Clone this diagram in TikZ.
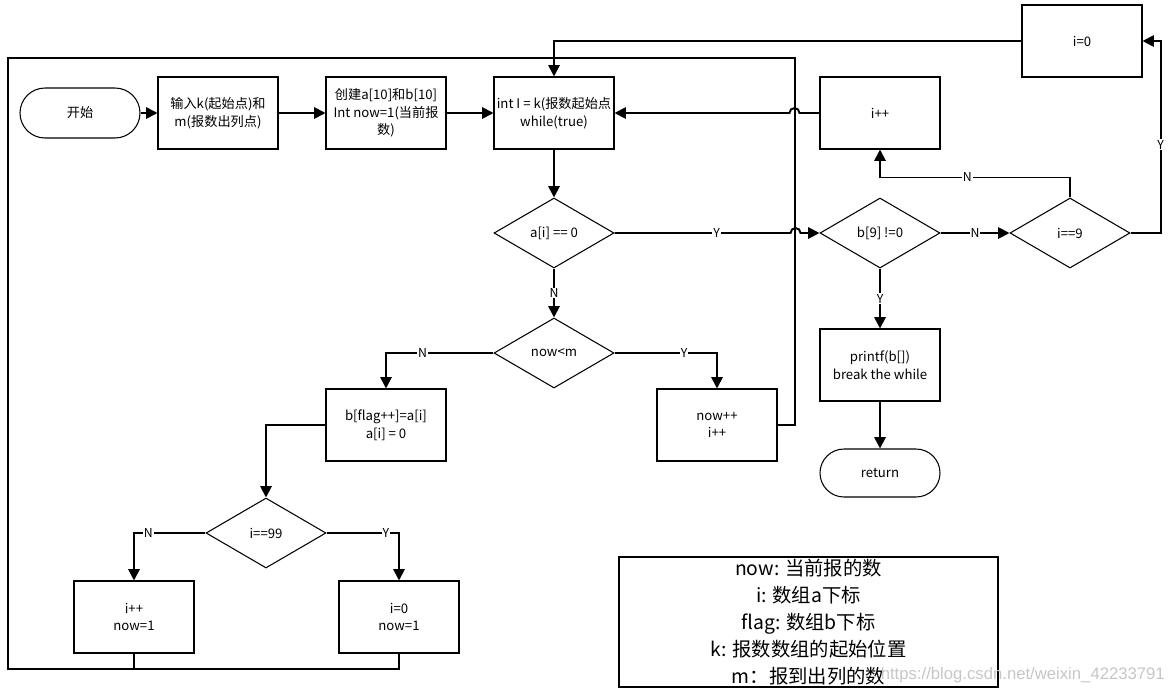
\documentclass[tikz,border=0pt]{standalone}
\usepackage{fontspec}
\setmainfont{Noto Sans CJK SC}
\newfontfamily\wmfont{Liberation Sans}
\usetikzlibrary{shapes.geometric, arrows.meta, positioning}

\tikzstyle{startstop} = [rectangle, rounded corners=0.5cm, minimum width=2.4cm, minimum height=1cm, text centered, draw=black, line width=0.6pt]
\tikzstyle{process} = [rectangle, minimum width=2.4cm, minimum height=1.44cm, text centered, align=center, inner sep=1pt, draw=black, line width=0.6pt]
\tikzstyle{decision} = [diamond, aspect=1.7, minimum width=2.4cm, minimum height=1.4cm, inner sep=0pt, text centered, draw=black, line width=0.6pt]
\tikzstyle{arrow} = [line width=1.1pt,-{Triangle[length=6.5pt,width=6.5pt]}]
\tikzstyle{line} = [line width=1.1pt]
\tikzstyle{lbl} = [fill=white, inner sep=0.5pt, font=\fontsize{7}{8}\selectfont]

\begin{document}
\begin{tikzpicture}[node distance=2.4cm, font=\fontsize{7.5}{10}\selectfont]
    \useasboundingbox (0,0) rectangle (23.48,-13.82);

    % Nodes
    \node (start) [startstop] at (1.6,-2.26) {开始};
    \node (input) [process, right of=start, xshift=0.36cm] {输入k(起始点)和\\m(报数出列点)};
    \node (create) [process, right of=input, xshift=0.96cm] {创建a[10]和b[10]\\Int now=1(当前报\\数)};
    \node (loop) [process, right of=create, xshift=0.96cm] {int I = k(报数起始点\\while(true)};

    % Inner loop
    \node (dA) [decision, below of=loop] {a[i] == 0};
    \node (dNow) [decision, below of=dA] {now<m};
    \node (bflag) [process, below of=dNow, xshift=-3.36cm, yshift=0.96cm] {b[flag++]=a[i]\\a[i] = 0};
    \node (nowpp) [process, below of=dNow, xshift=3.26cm, yshift=0.96cm] {now++\\i++};
    \node (d99) [decision, below of=bflag, xshift=-2.4cm, yshift=0.24cm] {i==99};
    \node (ipp1) [process, below of=d99, xshift=-2.64cm, yshift=0.72cm] {i++\\now=1};
    \node (i0b) [process, below of=d99, xshift=2.66cm, yshift=0.72cm] {i=0\\now=1};

    % Output part
    \node (d9) [decision, right of=dA, xshift=4.12cm] {b[9] !=0};
    \node (di9) [decision, right of=d9, xshift=1.4cm] {i==9};
    \node (ipp) [process, above of=d9] {i++};
    \node (i0) [process, above of=di9, xshift=0.24cm, yshift=1.44cm] {i=0};
    \node (print) [process, below of=d9, yshift=-0.24cm] {printf(b[])\\break the while};
    \node (ret) [startstop, below of=print, yshift=0.24cm, minimum height=0.96cm, rounded corners=0.48cm] {return};

    % Legend
    \node (legend) [draw=black, line width=0.6pt, minimum width=7.58cm, minimum height=2.6cm, inner sep=0pt, align=center, font=\fontsize{11}{15.3}\selectfont] at (16.17,-12.44) {now: 当前报的数\\i: 数组a下标\\flag: 数组b下标\\k: 报数数组的起始位置\\m：报到出列的数};
    \node (mark) [anchor=east, text=gray!45, font=\wmfont\fontsize{9.5}{11}\selectfont] at (23.42,-13.5) {https://blog.csdn.net/weixin\_42233791};

    \coordinate (corner) at (0.16,-13.38);
    \coordinate (back) at (15.9,-1.16);

    % Arrows
    \draw [arrow] (start) -- (input);
    \draw [arrow] (input) -- (create);
    \draw [arrow] (create) -- (loop);
    \draw [arrow] (loop) -- (dA);
    \draw [arrow] (dA) -- node[lbl]{N} (dNow);
    \draw [arrow] (dNow.west) -| node[lbl, pos=0.33]{N} (bflag.north);
    \draw [arrow] (dNow.east) -| node[lbl, pos=0.34]{Y} (nowpp.north);
    \draw [arrow] (bflag.west) -| (d99.north);
    \draw [arrow] (d99.west) -| node[lbl, pos=0.4]{N} (ipp1.north);
    \draw [arrow] (d99.east) -| node[lbl, pos=0.41]{Y} (i0b.north);

    % Back to the top
    \draw [line] (ipp1.south) |- (corner);
    \draw [line] (i0b.south) |- (corner) |- (back) |- (nowpp.east);

    % Output arrows
    \draw [arrow] (dA.east) -- node[lbl, pos=0.58]{Y} ++(3.52,0) arc[start angle=180, end angle=0, radius=0.1] -- (d9.west);
    \draw [arrow] (ipp.west) -- ++(-0.4,0) arc[start angle=0, end angle=180, radius=0.1] -- (loop.east);
    \draw [arrow] (d9) -- node[lbl]{N} (di9);
    \draw [arrow] (di9.north) -- ++(0,0.4) -| node[lbl, pos=0.27]{N} (ipp.south);
    \draw [arrow] (di9.east) -- ++(0.6,0) |- node[lbl, pos=0.23]{Y} (i0.east);
    \draw [arrow] (i0.west) -| (loop.north);
    \draw [arrow] (d9) -- node[lbl]{Y} (print);
    \draw [arrow] (print) -- (ret);

\end{tikzpicture}
\end{document}
